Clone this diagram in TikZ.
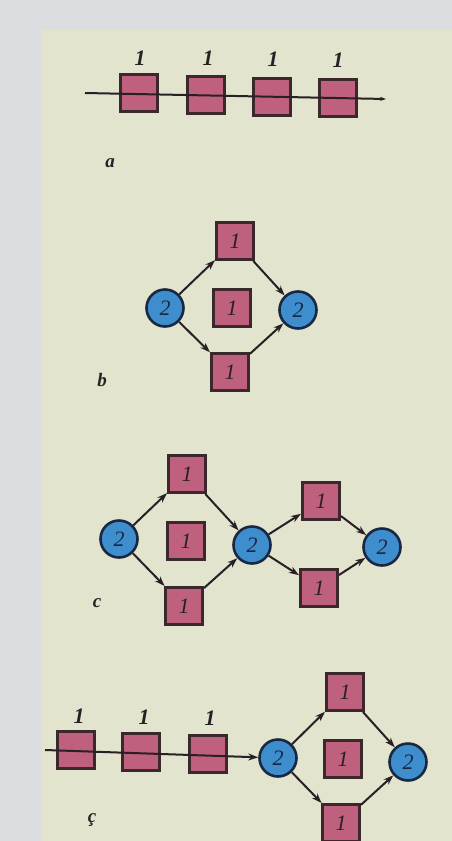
\documentclass[tikz,border=0pt]{standalone}
\usepackage{fontspec}
\setmainfont{Liberation Serif}
\usetikzlibrary{arrows.meta}
\definecolor{bggray}{RGB}{220,221,225}
\definecolor{panel}{RGB}{226,228,206}
\definecolor{boxfill}{RGB}{190,96,126}
\definecolor{boxline}{RGB}{58,40,44}
\definecolor{circfill}{RGB}{62,142,206}
\definecolor{circline}{RGB}{24,40,66}
\definecolor{ink}{RGB}{40,32,36}
\tikzset{
  sq/.style={draw=boxline, line width=3pt, fill=boxfill, minimum size=37pt, inner sep=0pt,
    font=\fontsize{22}{22}\selectfont\itshape, text=ink},
  sqe/.style={sq, font=\fontsize{1}{1}\selectfont},
  ci/.style={circle, draw=circline, line width=2.6pt, fill=circfill, minimum size=37pt, inner sep=0pt,
    font=\fontsize{22}{22}\selectfont\itshape, text=circline},
  lab/.style={font=\fontsize{22}{22}\selectfont\bfseries\itshape, text=ink},
  caption/.style={font=\fontsize{19}{19}\selectfont\bfseries\itshape, text=ink},
  con/.style={draw=ink, line width=2pt, -{Stealth[length=10pt,width=7pt]}},
  thru/.style={draw=ink, line width=2pt},
}
\begin{document}
\begin{tikzpicture}[x=1pt,y=-1pt]
\useasboundingbox (0,0) rectangle (452,841);
\fill[bggray] (0,0) rectangle (452,841);
\fill[panel] (42,30) rectangle (452,841);

% ---------- a ----------
\node[sqe] (a1) at (139,93) {};
\node[sqe] (a2) at (206,95) {};
\node[sqe] (a3) at (272,97) {};
\node[sqe] (a4) at (338,98) {};
\coordinate (as) at (85,93);
\coordinate (ae) at (386,99);
\draw[thru, -{Stealth[length=6pt,width=4pt]}] (as) -- (ae);
\node[lab] (la1) at (140,58) {1};
\node[lab] (la2) at (208,58) {1};
\node[lab] (la3) at (273,59) {1};
\node[lab] (la4) at (338,60) {1};
\node[caption] (capa) at (110,163) {a};

% ---------- b ----------
\node[ci] (b1) at (165,308) {2};
\node[ci] (b2) at (298,310) {2};
\node[sq] (bt) at (235,241) {1};
\node[sq] (bm) at (232,308) {1};
\node[sq] (bb) at (230,372) {1};
\draw[con] (b1) -- (bt);
\draw[con] (bt) -- (b2);
\draw[con] (b1) -- (bb);
\draw[con] (bb) -- (b2);
\node[caption] (capb) at (102,380) {b};

% ---------- c ----------
\node[ci] (c1) at (119,539) {2};
\node[sq] (ct) at (187,474) {1};
\node[sq] (cm) at (186,541) {1};
\node[sq] (cb) at (184,606) {1};
\node[ci] (c2) at (252,545) {2};
\node[sq] (cu) at (321,501) {1};
\node[sq] (cl) at (319,588) {1};
\node[ci] (c3) at (382,547) {2};
\draw[con] (c1) -- (ct);
\draw[con] (ct) -- (c2);
\draw[con] (c1) -- (cb);
\draw[con] (cb) -- (c2);
\draw[con] (c2) -- (cu);
\draw[con] (cu) -- (c3);
\draw[con] (c2) -- (cl);
\draw[con] (cl) -- (c3);
\node[caption] (capc) at (97,603) {c};

% ---------- ç ----------
\node[sqe] (d1) at (76,750) {};
\node[sqe] (d2) at (141,752) {};
\node[sqe] (d3) at (208,754) {};
\node[ci] (d4) at (278,758) {2};
\node[sq] (dt) at (345,692) {1};
\node[sq] (dm) at (343,759) {1};
\node[sq] (db) at (341,823) {1};
\node[ci] (d5) at (408,762) {2};
\coordinate (ds) at (45,750);
\draw[con] (ds) -- (d4);
\draw[con] (d4) -- (dt);
\draw[con] (dt) -- (d5);
\draw[con] (d4) -- (db);
\draw[con] (db) -- (d5);
\node[lab] (ld1) at (79,716) {1};
\node[lab] (ld2) at (144,717) {1};
\node[lab] (ld3) at (210,718) {1};
\node[caption] (capd) at (92,820) {ç};
\end{tikzpicture}
\end{document}
